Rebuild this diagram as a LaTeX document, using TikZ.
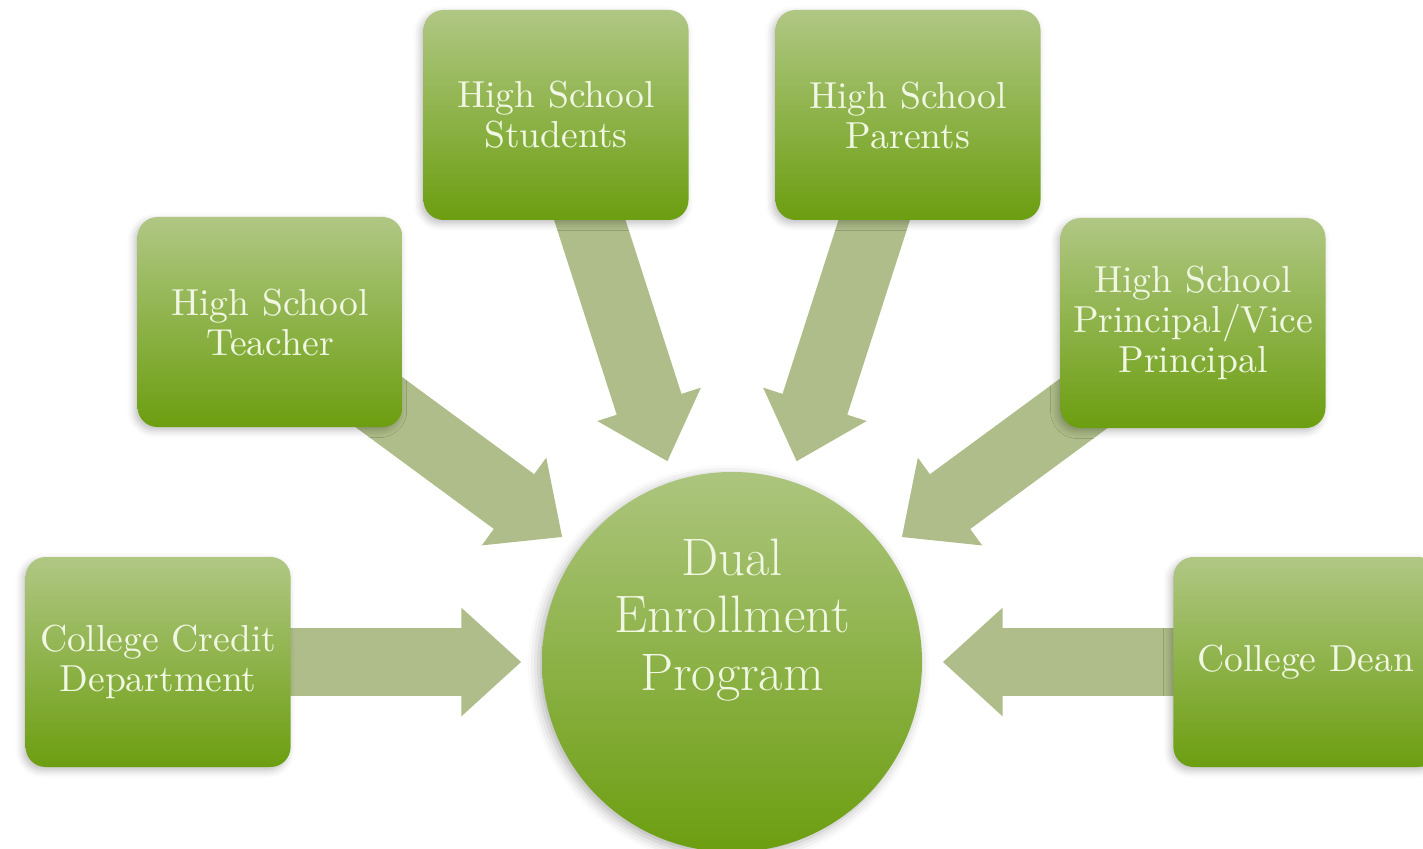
\documentclass[tikz,border=0pt]{standalone}
\usepackage{tikz}
\usetikzlibrary{positioning,arrows.meta,backgrounds,shadows.blur}
\definecolor{leafhi}{RGB}{176,199,132}
\definecolor{leaflo}{RGB}{108,158,16}
\definecolor{sage}{RGB}{174,189,137}
\definecolor{cream}{RGB}{240,247,226}

\begin{document}
\begin{tikzpicture}[
  party/.style={rectangle,rounded corners=2mm,minimum width=2.65cm,minimum height=2.1cm,
    top color=leafhi,bottom color=leaflo,text=cream,align=center,
    font=\fontsize{10.7}{11.4}\selectfont,
    blur shadow={shadow xshift=-0.8pt,shadow yshift=-1pt,shadow blur radius=2pt,shadow opacity=25}},
  program/.style={circle,minimum size=3.8cm,inner sep=0pt,
    top color=leafhi!95!leaflo,bottom color=leaflo,text=cream,
    font=\fontsize{15}{16.4}\selectfont,
    blur shadow={shadow xshift=-1pt,shadow yshift=-1pt,shadow blur radius=3pt,shadow opacity=30}},
  feed/.style={draw=sage,line width=6.8mm,-{Triangle[width=10.5mm,length=6mm]},shorten >=2mm}
]
  \useasboundingbox (0,0) rectangle (14.23,-8.49);
  \clip (0,0) rectangle (14.23,-8.49);

  % the program in the middle, partners around it
  \node[program] (hub) at (7.32,-6.62)
    {\raisebox{8pt}[20pt][20pt]{\begin{tabular}{@{}c@{}}Dual\\Enrollment\\Program\end{tabular}}};
  \node[party] (students) at (5.56,-1.15) {High School\\Students};
  \node[party] (parents) at (9.08,-1.15) {High School\\Parents};
  \node[party] (teacher) at (2.70,-3.22) {High School\\Teacher};
  \node[party] (principal) at (11.93,-3.23) {High School\\Principal/Vice\\Principal};
  \node[party,left=2.5cm of hub] (credit) {College Credit\\Department};
  \node[party,right=2.5cm of hub] (dean) {College Dean};

  % block arrows tucked under the boxes
  \begin{scope}[on background layer]
    \foreach \src in {students,parents,teacher,principal,credit,dean}
      \draw[feed] (\src.center) -- (hub);
  \end{scope}
\end{tikzpicture}
\end{document}
